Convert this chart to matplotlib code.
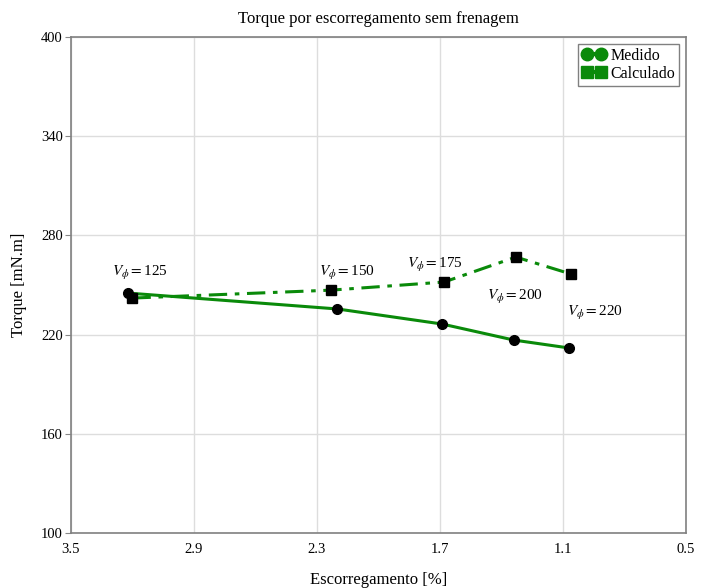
import matplotlib
matplotlib.use("Agg")
import matplotlib.pyplot as plt
from matplotlib.lines import Line2D

plt.rcParams['font.family'] = ['Liberation Serif', 'DejaVu Serif']
plt.rcParams['mathtext.fontset'] = 'stix'

# Slip [%] and torque [mN.m]
slip_medido = [3.22, 2.20, 1.69, 1.34, 1.07]
torque_medido = [245.1, 235.5, 226.4, 216.7, 211.9]
slip_calc = [3.20, 2.23, 1.68, 1.33, 1.06]
torque_calc = [242.1, 246.9, 251.8, 266.9, 256.6]

# Phase voltage labels
v_labels = ['125', '150', '175', '200', '220']
v_label_pos = [(3.30, 257.5), (2.29, 257.5), (1.86, 262.0), (1.47, 243.0), (1.08, 233.0)]

xticks = [3.5, 2.9, 2.3, 1.7, 1.1, 0.5]
yticks = [100, 160, 220, 280, 340, 400]

green = '#0a8a0a'

fig = plt.figure(figsize=(7.01, 5.88), dpi=100)
ax = fig.add_axes([71 / 701, 1 - 533 / 588, (686 - 71) / 701, (533 - 37) / 588])

ax.plot(slip_medido, torque_medido, color=green, lw=2.2, ls='-', zorder=3)
ax.plot(slip_medido, torque_medido, ls='none', marker='o', ms=7,
        mfc='black', mec='black', zorder=4)
ax.plot(slip_calc, torque_calc, color=green, lw=2.2, ls=(0, (6, 2.5, 1.5, 2.5)), zorder=3)
ax.plot(slip_calc, torque_calc, ls='none', marker='s', ms=7,
        mfc='black', mec='black', zorder=4)

for lab, (x, y) in zip(v_labels, v_label_pos):
    ax.text(x, y, r'$V_{\phi}=$' + lab, fontsize=11, ha='left', va='center', zorder=5)

ax.set_xlim(3.5, 0.5)
ax.set_ylim(100, 400)
ax.set_xticks(xticks)
ax.set_xticklabels([f'{t:.1f}' for t in xticks])
ax.set_yticks(yticks)
ax.tick_params(axis='x', length=0, pad=7, labelsize=10.5)
ax.tick_params(axis='y', length=4, width=0.8, color='#888888', pad=2, labelsize=10.5)
ax.grid(True, color='#dddddd', lw=1)
ax.set_axisbelow(True)
for s in ax.spines.values():
    s.set_color('#808080')
    s.set_linewidth(1.2)

ax.set_title('Torque por escorregamento sem frenagem', fontsize=12, pad=10)
ax.set_xlabel('Escorregamento [%]', fontsize=12, labelpad=12)
ax.set_ylabel('Torque [mN.m]', fontsize=12, labelpad=10)

handles = [
    Line2D([], [], color=green, lw=3, marker='o', ms=9, mfc=green, mec=green),
    Line2D([], [], color=green, lw=3, marker='s', ms=9, mfc=green, mec=green),
]
leg = ax.legend(handles, ['Medido', 'Calculado'], loc='upper right', fontsize=11.5,
                fancybox=False, framealpha=1, edgecolor='#808080', numpoints=2,
                handlelength=1.5, handletextpad=0.3, borderpad=0.25,
                labelspacing=0.1, borderaxespad=0, bbox_to_anchor=(0.989, 0.986))
leg.get_frame().set_linewidth(1)

fig.savefig('out.png', dpi=100)
